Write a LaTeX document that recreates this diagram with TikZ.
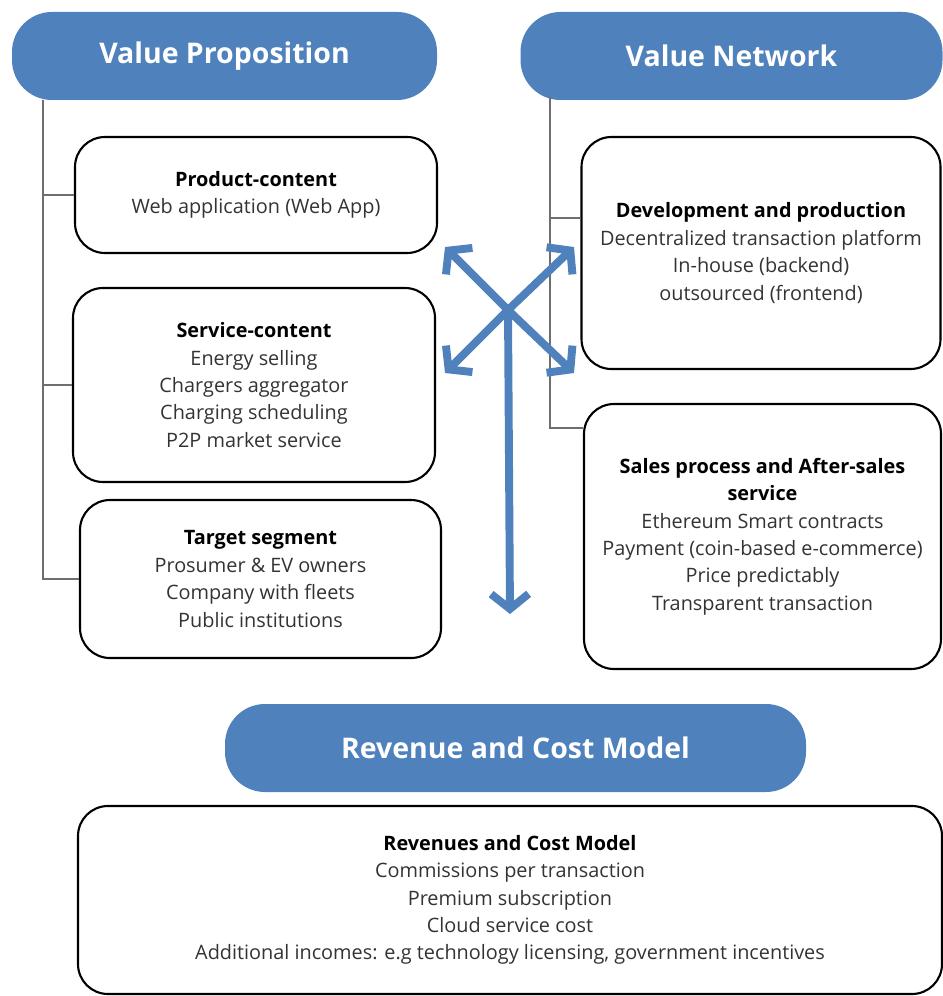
\documentclass[tikz,border=0pt]{standalone}
\usepackage{fontspec}
\setmainfont{Open Sans}
\usepackage{tikz}
\usetikzlibrary{arrows.meta,shapes,positioning}
\usepackage{xcolor}
\definecolor{bmblue}{RGB}{79,129,189}
\definecolor{bmtext}{RGB}{51,51,51}
\definecolor{bmgray}{RGB}{110,110,110}
\tikzstyle{header} = [rectangle, rounded corners=0.8cm, minimum height=1.76cm, fill=bmblue, text=white, font=\fontsize{16.2}{19}\selectfont\bfseries]
\tikzstyle{content} = [rectangle, rounded corners=0.6cm, draw=black, line width=1.2pt, align=center, text=bmtext, font=\fontsize{11.3}{15.6}\selectfont]
\tikzstyle{tree} = [color=bmgray, line width=0.8pt]
\tikzstyle{bigarrow} = [color=bmblue, line width=4.5pt, -{Straight Barb[length=3mm,width=7.5mm]}]

\begin{document}
\begin{tikzpicture}
\useasboundingbox (0,0) rectangle (18.86,-19.92);
% headers
\node (vp) [header, minimum width=8.5cm] at (4.49,-1.12) {Value Proposition};
\node (vn) [header, minimum width=8.44cm] at (14.63,-1.12) {Value Network};
\node (rcm) [header, minimum width=11.62cm] at (10.31,-14.96) {Revenue and Cost Model};

% value proposition
\node (prod) [content, minimum width=7.24cm, minimum height=2.32cm] at (5.12,-3.9) {\textbf{\color{black}Product-content}\\Web application (Web App)};
\node (serv) [content, minimum width=7.24cm, minimum height=3.88cm] at (5.08,-7.7) {\textbf{\color{black}Service-content}\\Energy selling\\Chargers aggregator\\Charging scheduling\\P2P market service};
\node (targ) [content, minimum width=7.22cm, minimum height=3.16cm] at (5.21,-11.58) {\textbf{\color{black}Target segment}\\Prosumer \& EV owners\\Company with fleets\\Public institutions};

% value network
\node (dev) [content, minimum width=7.18cm, minimum height=4.64cm] at (15.22,-5.06) {\textbf{\color{black}Development and production}\\Decentralized transaction platform\\In-house (backend)\\outsourced (frontend)};
\node (sales) [content, minimum width=7.14cm, minimum height=5.3cm] at (15.25,-10.73) {\textbf{\color{black}Sales process and After-sales}\\\textbf{\color{black}service}\\Ethereum Smart contracts\\Payment (coin-based e-commerce)\\Price predictably\\Transparent transaction};

% revenue
\node (rev) [content, minimum width=17.28cm, minimum height=3.76cm] at (10.2,-18.0) {\textbf{\color{black}Revenues and Cost Model}\\Commissions per transaction\\Premium subscription\\Cloud service cost\\Additional incomes: e.g technology licensing, government incentives};

% tree lines
\coordinate (vpt) at (0.86,-2.0);
\coordinate (vnt) at (11.0,-1.94);
\draw[tree] (vpt) |- (prod.west);
\draw[tree] (vpt) |- (serv.west);
\draw[tree] (vpt) |- (targ.west);
\draw[tree] (vnt) |- ([yshift=0.7cm]dev.west);
\draw[tree] (vnt) |- ([yshift=2.17cm]sales.west);

% arrows
\coordinate (hub) at (10.16,-6.2);
\coordinate (ul) at (8.9,-4.94);
\coordinate (ur) at (11.48,-4.94);
\coordinate (ll) at (8.9,-7.46);
\coordinate (lr) at (11.48,-7.46);
\coordinate (dn) at (10.2,-12.28);
\draw[bigarrow] (hub) -- (ul);
\draw[bigarrow] (hub) -- (ur);
\draw[bigarrow] (hub) -- (ll);
\draw[bigarrow] (hub) -- (lr);
\draw[bigarrow] (hub) -- (dn);
\end{tikzpicture}
\end{document}
